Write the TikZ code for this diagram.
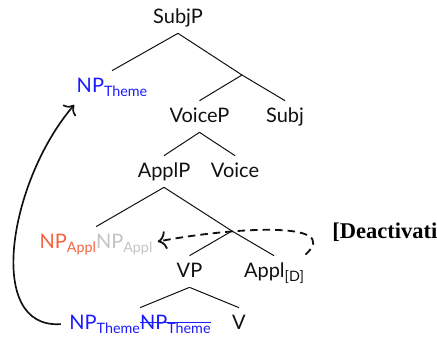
\documentclass[tikz,border=0pt]{standalone}
\usepackage{fontspec}
\setmainfont{Lato}
\newfontfamily\glossfont{Liberation Serif}
\usetikzlibrary{arrows.meta}
\definecolor{theme}{HTML}{1A1AFF}
\definecolor{appl}{HTML}{F4623F}
\definecolor{faded}{HTML}{C4C4C4}
\definecolor{txt}{HTML}{111111}
\newsavebox\strkbox
\newcommand\strk[1]{\sbox\strkbox{#1}\rlap{\rule[0.55ex]{\wd\strkbox}{0.6pt}}\usebox\strkbox}
\newcommand\lo[1]{\raisebox{-0.4ex}{\fontsize{8.6}{10}\selectfont #1}}

\begin{document}
\begin{tikzpicture}[
  x=0.6pt, y=-0.6pt,
  cat/.style={inner sep=0pt, text height=12.6pt, text depth=6pt, anchor=base, text=txt, font=\fontsize{12}{14}\selectfont},
  br/.style={line width=0.6pt, color=txt},
  mv/.style={-{To[scale=1.3]}, line width=1pt, color=txt, shorten <=5pt, shorten >=2pt},
  lbl/.style={anchor=base west, inner sep=0pt, font=\glossfont\bfseries\fontsize{13.5}{15}\selectfont},
]
\clip (0,0) rectangle (437,336);

\node[cat] (subjp) at (178,23) {SubjP};
\coordinate (subjbar) at (242,75);
\node[cat, text=theme] (nptheme) at (112,92) {NP\lo{Theme}};
\node[cat] (voicep) at (199.5,122) {VoiceP};
\node[cat] (subj) at (285,122) {Subj};
\node[cat] (applp) at (164,177) {ApplP};
\node[cat] (voice) at (235,177) {Voice};
\node[cat] (npappl) at (96,248) {\textcolor{appl}{NP\lo{Appl}}\textcolor{faded}{NP\lo{Appl}}};
\coordinate (applbar) at (232,231);
\node[cat] (vp) at (189.5,277) {VP};
\node[cat] (appld) at (274,277) {Appl\lo{[D]}};
\node[cat, text=theme] (npbase) at (140,329) {NP\lo{Theme}\strk{NP\lo{Theme}}};
\node[cat] (v) at (239,329) {V};

\node[lbl] (deact) at (332,238) {[Deactivation]};

\draw[br] (subjp.south) -- (nptheme.north);
\draw[br] (subjp.south) -- (subjbar);
\draw[br] (subjbar) -- (voicep.north);
\draw[br] (subjbar) -- (subj.north);
\draw[br] (voicep.south) -- (applp.north);
\draw[br] (voicep.south) -- (voice.north);
\draw[br] (applp.south) -- (npappl.north);
\draw[br] (applp.south) -- (applbar);
\draw[br] (applbar) -- (vp.north);
\draw[br] (applbar) -- (appld.north);
\draw[br] (vp.south) -- (npbase.north);
\draw[br] (vp.south) -- (v.north);

% movement and deactivation
\draw[mv] (npbase.west) .. controls +(-85,6) and +(-67,78) .. (nptheme.south west);
\draw[mv, line width=1.1pt, dash pattern=on 4.5pt off 3pt, shorten <=1pt, shorten >=3pt]
  (appld.north east) .. controls +(40,-36) and +(76,-14.5) .. (npappl.east);

\end{tikzpicture}
\end{document}
